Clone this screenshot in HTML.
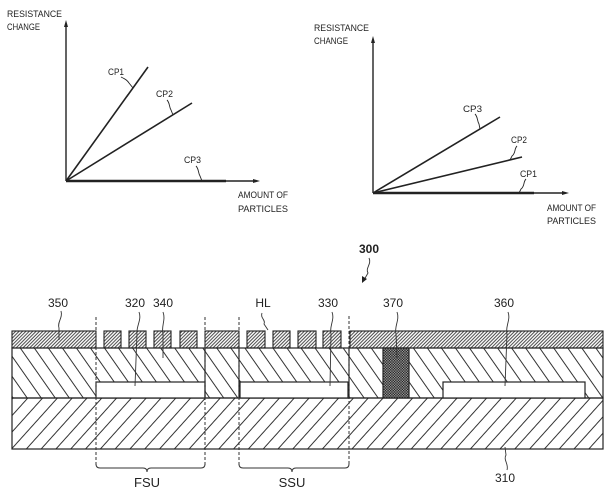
<!DOCTYPE html>
<html><head><meta charset="utf-8"><style>
html,body{margin:0;padding:0;background:#fff;}
svg{display:block;}
text{font-family:"Liberation Sans",sans-serif;fill:#222;}
</style></head><body>
<svg width="605" height="495" viewBox="0 0 605 495" xmlns="http://www.w3.org/2000/svg">
<defs>
<pattern id="hTop" width="2.4" height="10" patternUnits="userSpaceOnUse" patternTransform="rotate(45)">
<line x1="0.6" y1="0" x2="0.6" y2="10" stroke="#333" stroke-width="0.9"/></pattern>
<pattern id="hMid" width="11.5" height="10" patternUnits="userSpaceOnUse" patternTransform="rotate(-35)">
<line x1="1" y1="0" x2="1" y2="10" stroke="#333" stroke-width="1"/></pattern>
<pattern id="hBot" width="11" height="10" patternUnits="userSpaceOnUse" patternTransform="rotate(42)">
<line x1="1" y1="0" x2="1" y2="10" stroke="#333" stroke-width="1"/></pattern>
<pattern id="dots" width="2.6" height="2.6" patternUnits="userSpaceOnUse">
<rect width="2.6" height="2.6" fill="#999"/><rect width="1.3" height="1.3" fill="#222"/><rect x="1.3" y="1.3" width="1.3" height="1.3" fill="#222"/></pattern>
</defs>

<!-- LEFT GRAPH -->
<g stroke="#222" fill="none">
<line x1="66" y1="181" x2="66" y2="24" stroke-width="1.4"/>
<line x1="66" y1="181" x2="256" y2="181" stroke-width="1.4"/>
<line x1="66" y1="181" x2="148" y2="67" stroke-width="1.6"/>
<line x1="66" y1="181" x2="192" y2="103" stroke-width="1.6"/>
<line x1="66" y1="181" x2="226" y2="181" stroke-width="2.6"/>
<path d="M121,77 C125,79 127,80 129,83 L133,88" stroke-width="0.9"/>
<path d="M167,100 C170,103 169,107 171,110 L173,115" stroke-width="0.9"/>
<path d="M196,166 C199,169 198,173 200,176 L202,181" stroke-width="0.9"/>
</g>
<path d="M66,20 L64,27 L68,27 Z" fill="#222"/>
<path d="M260,181 L253,179 L253,183 Z" fill="#222"/>
<g font-size="9.5">
<text x="7" y="17" textLength="55" lengthAdjust="spacingAndGlyphs">RESISTANCE</text>
<text x="7" y="30" textLength="33" lengthAdjust="spacingAndGlyphs">CHANGE</text>
<text x="108" y="75" textLength="16" lengthAdjust="spacingAndGlyphs">CP1</text>
<text x="156" y="97" textLength="17" lengthAdjust="spacingAndGlyphs">CP2</text>
<text x="184" y="163" textLength="17" lengthAdjust="spacingAndGlyphs">CP3</text>
<text x="238" y="198" textLength="50" lengthAdjust="spacingAndGlyphs">AMOUNT OF</text>
<text x="238" y="212" textLength="50" lengthAdjust="spacingAndGlyphs">PARTICLES</text>
</g>

<!-- RIGHT GRAPH -->
<g stroke="#222" fill="none">
<line x1="373" y1="193" x2="373" y2="40" stroke-width="1.4"/>
<line x1="373" y1="193" x2="565" y2="193" stroke-width="1.4"/>
<line x1="373" y1="193" x2="500" y2="117" stroke-width="1.6"/>
<line x1="373" y1="193" x2="522" y2="157" stroke-width="1.6"/>
<line x1="373" y1="193" x2="534" y2="193" stroke-width="2.6"/>
<path d="M475,114 C478,117 477,121 479,124 L480,129" stroke-width="0.9"/>
<path d="M517,146 C514,149 516,153 512,156 L510,160" stroke-width="0.9"/>
<path d="M526,179 C523,182 525,186 521,189 L519,193" stroke-width="0.9"/>
</g>
<path d="M373,36 L371,43 L375,43 Z" fill="#222"/>
<path d="M569,193 L562,191 L562,195 Z" fill="#222"/>
<g font-size="9.5">
<text x="314" y="31" textLength="55" lengthAdjust="spacingAndGlyphs">RESISTANCE</text>
<text x="314" y="44" textLength="34" lengthAdjust="spacingAndGlyphs">CHANGE</text>
<text x="463" y="112" textLength="19" lengthAdjust="spacingAndGlyphs">CP3</text>
<text x="511" y="143" textLength="16" lengthAdjust="spacingAndGlyphs">CP2</text>
<text x="520" y="177" textLength="17" lengthAdjust="spacingAndGlyphs">CP1</text>
<text x="547" y="211" textLength="49" lengthAdjust="spacingAndGlyphs">AMOUNT OF</text>
<text x="547" y="224" textLength="49" lengthAdjust="spacingAndGlyphs">PARTICLES</text>
</g>

<!-- CROSS SECTION -->
<rect x="12" y="398" width="591" height="51" fill="url(#hBot)" stroke="#222" stroke-width="1.2"/>
<rect x="12" y="348" width="591" height="50" fill="url(#hMid)" stroke="#222" stroke-width="1.2"/>
<g fill="#fff" stroke="#222" stroke-width="1.2">
<rect x="96" y="382" width="109" height="16"/>
<rect x="240" y="382" width="108" height="16"/>
<rect x="443" y="382" width="142" height="16"/>
</g>
<rect x="383" y="348" width="26" height="50" fill="url(#dots)" stroke="#222" stroke-width="1.2"/>
<g stroke="#222" stroke-width="1.2">
<line x1="205" y1="348" x2="205" y2="398"/>
<line x1="239" y1="348" x2="239" y2="398"/>
<line x1="349" y1="348" x2="349" y2="398"/>
</g>
<g fill="url(#hTop)" stroke="#222" stroke-width="1.1">
<rect x="12" y="331" width="84" height="17"/>
<rect x="104" y="331" width="17" height="17"/>
<rect x="129" y="331" width="17" height="17"/>
<rect x="154" y="331" width="17" height="17"/>
<rect x="180" y="331" width="17" height="17"/>
<rect x="205" y="331" width="34" height="17"/>
<rect x="247" y="331" width="18" height="17"/>
<rect x="273" y="331" width="17" height="17"/>
<rect x="298" y="331" width="18" height="17"/>
<rect x="323" y="331" width="18" height="17"/>
<rect x="350" y="331" width="253" height="17"/>
</g>
<g stroke="#333" stroke-width="1" stroke-dasharray="3,2" fill="none">
<line x1="96" y1="317" x2="96" y2="466"/>
<line x1="205" y1="317" x2="205" y2="466"/>
<line x1="239" y1="317" x2="239" y2="466"/>
<line x1="349" y1="316" x2="349" y2="466"/>
</g>
<g stroke="#333" stroke-width="1" fill="none">
<path d="M96,464 Q96,468 100,468 L143,468 Q147,468 147,472 Q147,468 151,468 L201,468 Q205,468 205,464"/>
<path d="M239,464 Q239,468 243,468 L288,468 Q292,468 292,472 Q292,468 296,468 L345,468 Q349,468 349,464"/>
</g>
<g stroke="#333" stroke-width="0.9" fill="none">
<path d="M61,311 C63,318 57,322 59,328 L59,340"/>
<path d="M139,312 C142,320 136,326 137,334 L135,386"/>
<path d="M163,312 C166,320 161,326 163,334 L163,358"/>
<path d="M262,313 C260,318 266,320 264,324 L268,330"/>
<path d="M332,312 C335,320 329,326 331,334 L330,386"/>
<path d="M397,312 C400,320 394,326 396,334 L397,358"/>
<path d="M508,312 C511,320 505,326 507,334 L505,386"/>
<path d="M507,470 C509,464 503,460 506,455 L505,447"/>
<path d="M369,258 C372,264 365,268 368,273 L364,280"/>
</g>
<path d="M362,283 L362,276 L367,279 Z" fill="#222"/>
<g font-size="12" text-anchor="middle">
<text x="58" y="307">350</text>
<text x="135" y="307">320</text>
<text x="163" y="307">340</text>
<text x="263" y="307">HL</text>
<text x="328" y="307">330</text>
<text x="393" y="307">370</text>
<text x="504" y="307">360</text>
<text x="369" y="253" font-weight="bold">300</text>
<text x="505" y="482">310</text>
<text x="147" y="487" font-size="13">FSU</text>
<text x="292" y="487" font-size="13">SSU</text>
</g>
</svg>
</body></html>
